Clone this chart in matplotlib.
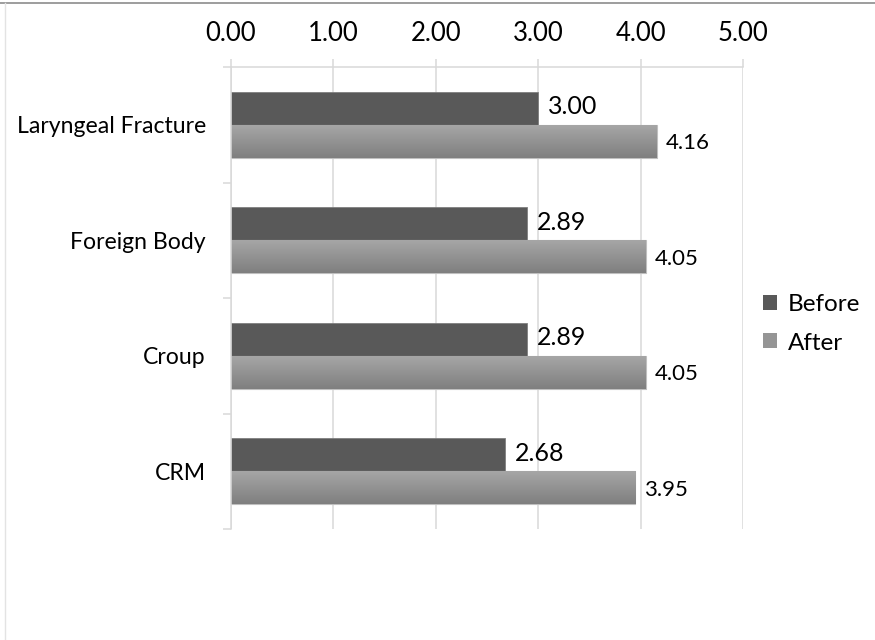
import numpy as np
import matplotlib
matplotlib.use('Agg')
import matplotlib.pyplot as plt
from matplotlib.patches import Patch
from matplotlib.lines import Line2D
from matplotlib.colors import LinearSegmentedColormap

plt.rcParams['font.family'] = ['Lato', 'DejaVu Sans']

categories = ['Laryngeal Fracture', 'Foreign Body', 'Croup', 'CRM']
before = [3.00, 2.89, 2.89, 2.68]
after = [4.16, 4.05, 4.05, 3.95]
x_ticks = [0, 1, 2, 3, 4, 5]

fig = plt.figure(figsize=(8.75, 6.4), dpi=100)
ax = fig.add_axes([231 / 875, 1 - 529 / 640, 512 / 875, 462 / 640])

h = 0.2857
y = np.arange(len(categories))
grid_col = '#d9d9d9'

ax.set_axisbelow(True)
ax.grid(axis='x', color=grid_col, linewidth=1.1)

bars_b = ax.barh(y - h / 2, before, height=h, color='#595959',
                 edgecolor='#7f7f7f', linewidth=0.6, zorder=2)
bars_a = ax.barh(y + h / 2, after, height=h, color='#959595',
                 edgecolor='#bfbfbf', linewidth=0.8, zorder=2)

# gradient fill on the "After" bars
grad_cmap = LinearSegmentedColormap.from_list('g', ['#a6a6a6', '#7f7f7f'])
grad = np.linspace(0, 1, 64).reshape(-1, 1)
for rect, yc, v in zip(bars_a, y + h / 2, after):
    im = ax.imshow(grad, extent=(0, v, yc + h / 2, yc - h / 2), origin='upper',
                   cmap=grad_cmap, aspect='auto', zorder=2.5)
    im.set_clip_path(rect)

for yc, v in zip(y - h / 2, before):
    ax.annotate(f'{v:.2f}', (v, yc), xytext=(7, 1), textcoords='offset points',
                va='center', ha='left', fontsize=18, color='#000000')
for yc, v in zip(y + h / 2, after):
    ax.annotate(f'{v:.2f}', (v, yc), xytext=(6.5, -1.5), textcoords='offset points',
                va='center', ha='left', fontsize=16, color='#000000')

ax.set_xlim(0, 5)
ax.set_ylim(len(categories) - 0.5, -0.5)

ax.xaxis.tick_top()
ax.set_xticks(x_ticks)
ax.set_xticklabels([f'{t:.2f}' for t in x_ticks], fontsize=18.5)
ax.tick_params(axis='x', which='major', length=5.8, color=grid_col, width=1.1, pad=9)

ax.set_yticks(y)
ax.set_yticklabels(categories, fontsize=16.6)
ax.set_yticks(np.arange(len(categories) + 1) - 0.5, minor=True)
ax.tick_params(axis='y', which='major', length=0, pad=18)
ax.tick_params(axis='y', which='minor', length=5.8, color=grid_col, width=1.1)

for s in ['right', 'bottom']:
    ax.spines[s].set_visible(False)
for s in ['top', 'left']:
    ax.spines[s].set_color(grid_col)
    ax.spines[s].set_linewidth(1.1)

handles = [Patch(facecolor='#595959', edgecolor='none'),
           Patch(facecolor='#959595', edgecolor='none')]
fig.legend(handles, ['Before', 'After'], loc='center left',
           bbox_to_anchor=(763 / 875, 1 - 324 / 640), frameon=False,
           fontsize=17.5, handlelength=0.58, handleheight=0.58,
           handletextpad=0.45, labelspacing=0.7, borderpad=0, borderaxespad=0)

# outer frame remnants
fig.add_artist(Line2D([0, 1], [1 - 3 / 640, 1 - 3 / 640], color='#8c8c8c', linewidth=1.2))
fig.add_artist(Line2D([5 / 875, 5 / 875], [0, 1 - 3 / 640], color='#e3e3e3', linewidth=1))

fig.savefig('out.png', dpi=100, facecolor='white')
